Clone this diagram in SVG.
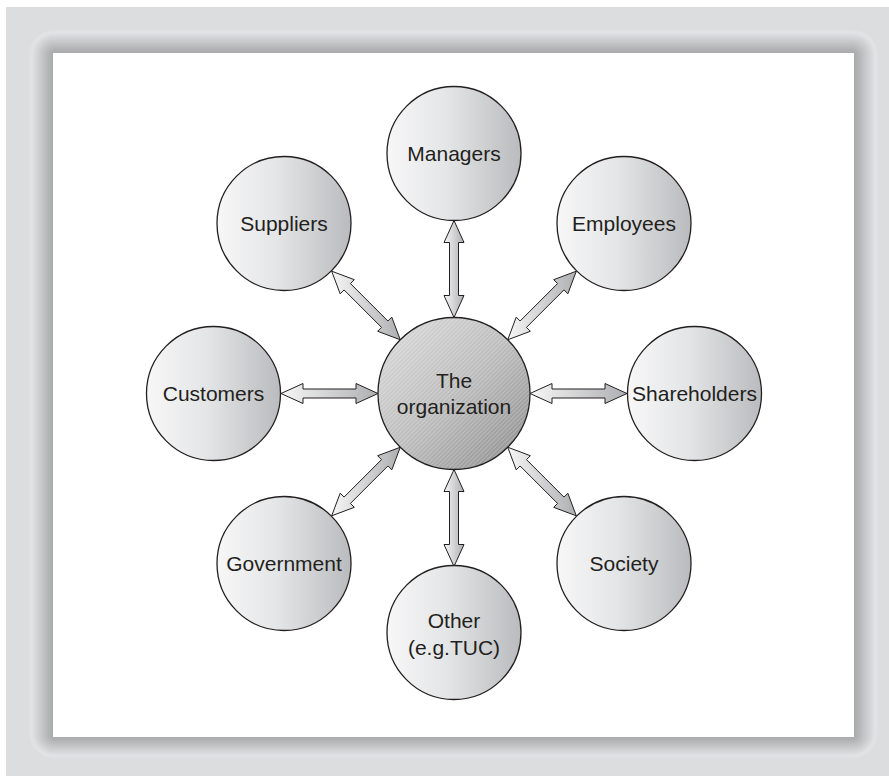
<svg xmlns="http://www.w3.org/2000/svg" width="889" height="776" viewBox="0 0 889 776">
  <style>
    .node { fill: url(#nodeFill); stroke: #231f20; stroke-width: 1.3; }
    .hub { fill: url(#hubFill); stroke: #231f20; stroke-width: 1.3; }
    .hatch { fill: url(#hatch); }
    .label { font-family: "Liberation Sans", Arial, Helvetica, sans-serif; font-size: 21px; fill: #231f20; text-anchor: middle; }
    .arrow { fill: url(#arrowFill); stroke: #231f20; stroke-width: 1; stroke-linejoin: miter; }
  </style>
  <defs>
    <linearGradient id="nodeFill" x1="0" y1="0" x2="1" y2="0">
      <stop offset="0" stop-color="#f7f7f8"/>
      <stop offset="0.45" stop-color="#e4e5e6"/>
      <stop offset="1" stop-color="#babbbe"/>
    </linearGradient>
    <linearGradient id="hubFill" x1="0.1" y1="0.1" x2="0.9" y2="0.9">
      <stop offset="0" stop-color="#dcdcdc"/>
      <stop offset="0.5" stop-color="#c2c2c2"/>
      <stop offset="1" stop-color="#9a9a9a"/>
    </linearGradient>
    <pattern id="hatch" width="3" height="3" patternUnits="userSpaceOnUse" patternTransform="rotate(-45)">
      <rect x="0" y="0" width="3" height="1" fill="#ffffff" fill-opacity="0.18"/>
      <rect x="0" y="1.5" width="3" height="0.8" fill="#000000" fill-opacity="0.07"/>
    </pattern>
    <linearGradient id="arrowFill" x1="0" y1="0" x2="1" y2="0">
      <stop offset="0" stop-color="#f6f6f6"/>
      <stop offset="1" stop-color="#aeafb2"/>
    </linearGradient>
    <filter id="soft" x="-2%" y="-2%" width="104%" height="104%">
      <feGaussianBlur stdDeviation="0.9"/>
    </filter>
  </defs>

  <!-- page background -->
  <rect x="0" y="0" width="889" height="776" fill="#ffffff"/>
  <rect x="6" y="7" width="883" height="769" fill="#dcdddf"/>

  <!-- bevelled frame: stacked rounded rects darkening toward the panel -->
  <g id="frame">
    <g filter="url(#soft)">
      <rect x="30" y="31" width="847" height="726" rx="24" fill="#e4e5e7"/>
      <rect x="32.1" y="33" width="842.8" height="722.2" rx="22" fill="#dedfe1"/>
      <rect x="34.2" y="35" width="838.6" height="718.4" rx="20" fill="#d8d9db"/>
      <rect x="36.3" y="37" width="834.5" height="714.5" rx="18" fill="#d2d3d5"/>
      <rect x="38.4" y="39" width="830.3" height="710.7" rx="16" fill="#cdced0"/>
      <rect x="40.5" y="41" width="826.1" height="706.9" rx="14" fill="#c7c8ca"/>
      <rect x="42.5" y="43" width="821.9" height="703.1" rx="12" fill="#c1c2c4"/>
      <rect x="44.6" y="45" width="817.7" height="699.3" rx="10" fill="#bbbcbe"/>
      <rect x="46.7" y="47" width="813.5" height="695.5" rx="8" fill="#b5b6b8"/>
      <rect x="48.8" y="49" width="809.4" height="691.6" rx="6" fill="#b0b1b3"/>
      <rect x="50.9" y="51" width="805.2" height="687.8" rx="4" fill="#aaabad"/>
    </g>
    <rect x="53" y="53" width="801" height="684" fill="#ffffff"/>
  </g>

  <!-- double-headed connectors between the hub and each stakeholder -->
  <g id="connectors">
    <path class="arrow" d="M281,393.5 L303,383.5 L303,389 L356,389 L356,383.5 L378,393.5 L356,403.5 L356,398 L303,398 L303,403.5 Z"/>
    <path class="arrow" d="M530,393.5 L552,383.5 L552,389 L605,389 L605,383.5 L627,393.5 L605,403.5 L605,398 L552,398 L552,403.5 Z"/>
    <path class="arrow" d="M454,220.5 L444,242.5 L449.5,242.5 L449.5,295.5 L444,295.5 L454,317.5 L464,295.5 L458.5,295.5 L458.5,242.5 L464,242.5 Z"/>
    <path class="arrow" d="M454,469.5 L444,491.5 L449.5,491.5 L449.5,544.5 L444,544.5 L454,566.5 L464,544.5 L458.5,544.5 L458.5,491.5 L464,491.5 Z"/>
    <path class="arrow" d="M331.68,271.18 L354.30,279.66 L350.41,283.55 L387.89,321.03 L391.78,317.14 L400.26,339.76 L377.64,331.28 L381.53,327.39 L344.05,289.91 L340.16,293.80 Z"/>
    <path class="arrow" d="M507.74,447.24 L530.36,455.72 L526.47,459.61 L563.95,497.09 L567.84,493.20 L576.32,515.82 L553.70,507.34 L557.59,503.45 L520.11,465.97 L516.22,469.86 Z"/>
    <path class="arrow" d="M507.74,339.76 L516.22,317.14 L520.11,321.03 L557.59,283.55 L553.70,279.66 L576.32,271.18 L567.84,293.80 L563.95,289.91 L526.47,327.39 L530.36,331.28 Z"/>
    <path class="arrow" d="M331.68,515.82 L340.16,493.20 L344.05,497.09 L381.53,459.61 L377.64,455.72 L400.26,447.24 L391.78,469.86 L387.89,465.97 L350.41,503.45 L354.30,507.34 Z"/>
  </g>

  <g id="organization">
    <circle class="hub" cx="454" cy="393.5" r="76"/>
    <circle class="hatch" cx="454" cy="393.5" r="75.3"/>
    <text class="label" x="454" y="388">The</text>
    <text class="label" x="454" y="414">organization</text>
  </g>

  <g id="managers">
    <circle class="node" cx="454" cy="153.5" r="67"/>
    <text class="label" x="454" y="161">Managers</text>
  </g>

  <g id="employees">
    <circle class="node" cx="624" cy="223.5" r="67"/>
    <text class="label" x="624" y="231">Employees</text>
  </g>

  <g id="shareholders">
    <circle class="node" cx="694.5" cy="393.5" r="67"/>
    <text class="label" x="694.5" y="401" textLength="125" lengthAdjust="spacingAndGlyphs">Shareholders</text>
  </g>

  <g id="society">
    <circle class="node" cx="624" cy="563.5" r="67"/>
    <text class="label" x="624" y="571">Society</text>
  </g>

  <g id="other">
    <circle class="node" cx="454" cy="632.5" r="67"/>
    <text class="label" x="454" y="628">Other</text>
    <text class="label" x="454" y="655">(e.g.TUC)</text>
  </g>

  <g id="government">
    <circle class="node" cx="284" cy="563.5" r="67"/>
    <text class="label" x="284" y="571">Government</text>
  </g>

  <g id="customers">
    <circle class="node" cx="213.5" cy="393.5" r="67"/>
    <text class="label" x="213.5" y="401">Customers</text>
  </g>

  <g id="suppliers">
    <circle class="node" cx="284" cy="223.5" r="67"/>
    <text class="label" x="284" y="231">Suppliers</text>
  </g>
</svg>
